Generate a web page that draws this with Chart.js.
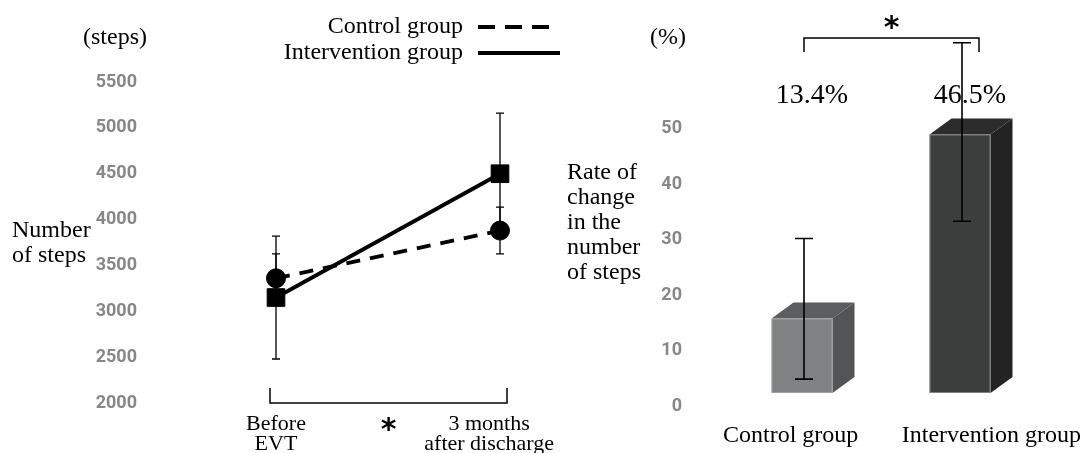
<!DOCTYPE html>
<html>
<head>
<meta charset="utf-8">
<script src="https://cdn.jsdelivr.net/npm/chart.js@4.4.1/dist/chart.umd.min.js"></script>
<style>
  html, body { margin: 0; padding: 0; background: #fff; }
  #wrap { position: relative; width: 1084px; height: 453px; overflow: hidden; }
  canvas { position: absolute; top: 0; }
  #steps { left: 0; }
  #rate { left: 560px; }
</style>
</head>
<body>
<div id="wrap">
  <canvas id="steps" width="560" height="453"></canvas>
  <canvas id="rate" width="524" height="453"></canvas>
</div>
<script>
// Mean daily steps (± SD), before EVT and 3 months after discharge
const periods = [['Before', 'EVT'], ['3 months', 'after discharge']];
const controlSteps = [3360, 3880];
const controlSD = [265, 255];
const interventionSteps = [3150, 4500];
const interventionSD = [670, 660];
const stepTicks = [2000, 2500, 3000, 3500, 4000, 4500, 5000, 5500];

// Rate of change in the number of steps (%), with error range
const groups = ['Control group', 'Intervention group'];
const changeRate = [13.4, 46.5];
const changeLow = [2.5, 30.9];
const changeHigh = [27.8, 63.0];
const rateTicks = [0, 10, 20, 30, 40, 50];

const SERIF = '"Liberation Serif", "Times New Roman", serif';
const TICK_FONT = { family: 'Roboto', size: 18, weight: '700' };
const TICK_COLOR = '#878787';

function drawErrorBar(ctx, x, yLow, yHigh, cap, width) {
  ctx.save();
  ctx.strokeStyle = '#000';
  ctx.lineWidth = width;
  ctx.beginPath();
  ctx.moveTo(x, yLow); ctx.lineTo(x, yHigh);
  ctx.moveTo(x - cap / 2, yLow); ctx.lineTo(x + cap / 2, yLow);
  ctx.moveTo(x - cap / 2, yHigh); ctx.lineTo(x + cap / 2, yHigh);
  ctx.stroke();
  ctx.restore();
}

// draws a glyph so that its ink is centred on (x, cy)
function drawCentredGlyph(ctx, text, x, cy) {
  const m = ctx.measureText(text);
  ctx.textAlign = 'center';
  ctx.textBaseline = 'alphabetic';
  ctx.fillText(text, x, cy + (m.actualBoundingBoxAscent - m.actualBoundingBoxDescent) / 2);
}

function drawBracket(ctx, left, right, top, bottom, open) {
  ctx.save();
  ctx.strokeStyle = '#000';
  ctx.lineWidth = 1.5;
  ctx.beginPath();
  if (open === 'up') {
    ctx.moveTo(left, top); ctx.lineTo(left, bottom); ctx.lineTo(right, bottom); ctx.lineTo(right, top);
  } else {
    ctx.moveTo(left, bottom); ctx.lineTo(left, top); ctx.lineTo(right, top); ctx.lineTo(right, bottom);
  }
  ctx.stroke();
  ctx.restore();
}

// y axis whose labels sit well away from the plot: fixed width, no extra vertical padding
function fixedAxis(width) {
  return s => { s.width = width; s.paddingTop = 10; s.paddingBottom = 10; };
}

/* ---------- left: number of steps ---------- */
const stepsDecor = {
  id: 'stepsDecor',
  beforeDatasetsDraw(chart) {
    const ctx = chart.ctx;
    const y = chart.scales.y;
    chart.data.datasets.forEach((ds, d) => {
      chart.getDatasetMeta(d).data.forEach((pt, i) => {
        drawErrorBar(ctx, pt.x,
          y.getPixelForValue(ds.data[i] - ds.sd[i]),
          y.getPixelForValue(ds.data[i] + ds.sd[i]), 8, 1.3);
      });
    });
  },
  afterDraw(chart) {
    const ctx = chart.ctx;
    const area = chart.chartArea;
    const pts = chart.getDatasetMeta(0).data;
    ctx.save();
    ctx.fillStyle = '#000';

    // legend: label on the left, line sample on the right
    ctx.font = '24px ' + SERIF;
    chart.data.datasets.forEach((ds, i) => {
      const base = 33 + i * 26;
      ctx.textAlign = 'right';
      ctx.textBaseline = 'alphabetic';
      ctx.fillText(ds.label, 463, base);
      ctx.save();
      ctx.strokeStyle = '#000';
      ctx.lineWidth = ds.borderWidth;
      ctx.setLineDash(ds.legendDash);
      ctx.beginPath();
      ctx.moveTo(478, base - 6);
      ctx.lineTo(ds.legendDash.length ? 551 : 561, base - 6);
      ctx.stroke();
      ctx.restore();
    });

    // unit and axis title
    ctx.textAlign = 'center';
    ctx.fillText('(steps)', 115, 44);
    ctx.textAlign = 'left';
    ctx.fillText('Number', 12, 237);
    ctx.fillText('of steps', 12, 262);

    // category labels under the bracket
    ctx.font = '22px ' + SERIF;
    ctx.textAlign = 'center';
    periods.forEach((lines, i) => {
      const w = Math.max(...lines.map(s => ctx.measureText(s).width));
      const cx = Math.min(pts[i].x, chart.width - 6 - w / 2);
      lines.forEach((s, k) => ctx.fillText(s, cx, area.bottom + 27 + k * 20));
    });

    // significance bracket between the two time points
    const left = pts[0].x - 6, right = pts[1].x + 7;
    drawBracket(ctx, left, right, area.bottom - 15, area.bottom, 'up');
    ctx.font = 'bold 30px "DejaVu Sans"';
    drawCentredGlyph(ctx, '*', (left + right) / 2, area.bottom + 21);
    ctx.restore();
  }
};

new Chart(document.getElementById('steps'), {
  type: 'line',
  data: {
    labels: periods,
    datasets: [
      {
        label: 'Control group',
        data: controlSteps,
        sd: controlSD,
        borderColor: '#000',
        backgroundColor: '#000',
        borderWidth: 3.8,
        borderDash: [14, 10],
        legendDash: [17, 10],
        pointStyle: 'circle',
        pointRadius: 9.5,
        pointBorderWidth: 1,
        pointBackgroundColor: '#000',
        pointBorderColor: '#000'
      },
      {
        label: 'Intervention group',
        data: interventionSteps,
        sd: interventionSD,
        borderColor: '#000',
        backgroundColor: '#000',
        borderWidth: 3.8,
        legendDash: [],
        pointStyle: 'rect',
        pointRadius: 12.5,
        pointBorderWidth: 1,
        pointBackgroundColor: '#000',
        pointBorderColor: '#000'
      }
    ]
  },
  options: {
    responsive: false,
    animation: false,
    events: [],
    layout: { padding: { top: 82, bottom: 50, right: 60, left: 0 } },
    plugins: { legend: { display: false }, tooltip: { enabled: false } },
    scales: {
      x: { type: 'category', offset: false, display: false },
      y: {
        min: 2000, max: 5500,
        afterBuildTicks: s => { s.ticks = stepTicks.map(v => ({ value: v })); },
        afterFit: fixedAxis(276),
        grid: { display: false },
        border: { display: false },
        ticks: { padding: 131, color: TICK_COLOR, font: TICK_FONT, callback: v => String(v) }
      }
    }
  },
  plugins: [stepsDecor]
});

/* ---------- right: rate of change, drawn as 3D boxes ---------- */
const BOX_DEPTH = { dx: 22, dy: 16, lift: 13.5 };
const rateDecor = {
  id: 'rateDecor',
  beforeDatasetDraw() { return false; },
  afterDatasetsDraw(chart) {
    const ctx = chart.ctx;
    const ds = chart.data.datasets[0];
    const y = chart.scales.y;
    const bars = chart.getDatasetMeta(0).data;
    const { dx, dy, lift } = BOX_DEPTH;
    ctx.save();
    bars.forEach((bar, i) => {
      const p = bar.getProps(['x', 'y', 'base', 'width'], true);
      const l = p.x - p.width / 2, r = p.x + p.width / 2;
      const t = p.y - lift, b = p.base - lift;
      ctx.fillStyle = ds.sideColor[i];
      ctx.beginPath();
      ctx.moveTo(r, b); ctx.lineTo(r + dx, b - dy); ctx.lineTo(r + dx, t - dy); ctx.lineTo(r, t);
      ctx.closePath(); ctx.fill();
      ctx.fillStyle = ds.topColor[i];
      ctx.beginPath();
      ctx.moveTo(l, t); ctx.lineTo(l + dx, t - dy); ctx.lineTo(r + dx, t - dy); ctx.lineTo(r, t);
      ctx.closePath(); ctx.fill();
      ctx.fillStyle = ds.backgroundColor[i];
      ctx.fillRect(l, t, p.width, b - t);
      ctx.strokeStyle = 'rgba(190,190,190,0.55)';
      ctx.lineWidth = 1;
      ctx.strokeRect(l + 0.5, t + 0.5, p.width - 1, b - t - 1);
    });
    bars.forEach((bar, i) => {
      drawErrorBar(ctx, bar.x + 2,
        y.getPixelForValue(changeLow[i]) - lift,
        y.getPixelForValue(changeHigh[i]) - lift, 18, 1.6);
    });
    ctx.restore();
  },
  afterDraw(chart) {
    const ctx = chart.ctx;
    const area = chart.chartArea;
    const bars = chart.getDatasetMeta(0).data;
    const { dx } = BOX_DEPTH;
    ctx.save();
    ctx.fillStyle = '#000';

    // value labels
    ctx.font = '28px ' + SERIF;
    ctx.textAlign = 'center';
    ctx.textBaseline = 'alphabetic';
    bars.forEach((bar, i) => {
      ctx.fillText(changeRate[i].toFixed(1) + '%', bar.x + dx / 2 - 1, area.top - 25.5);
    });

    // unit and axis title
    ctx.font = '24px ' + SERIF;
    ctx.fillText('(%)', 108, 44);
    ctx.textAlign = 'left';
    ['Rate of', 'change', 'in the', 'number', 'of steps'].forEach((s, k) => {
      ctx.fillText(s, 7, 179 + k * 25);
    });

    // group names
    ctx.fillText(groups[0], area.left, area.bottom + 35);
    ctx.textAlign = 'right';
    ctx.fillText(groups[1], chart.width - 3, area.bottom + 35);

    // significance bracket between the groups
    const left = bars[0].x + 2, right = bars[1].x + dx - 3;
    drawBracket(ctx, left, right, area.top - 90.5, area.top - 76.5, 'down');
    ctx.font = 'bold 30px "DejaVu Sans"';
    drawCentredGlyph(ctx, '*', (left + right) / 2, area.top - 106);
    ctx.restore();
  }
};

new Chart(document.getElementById('rate'), {
  type: 'bar',
  data: {
    labels: groups,
    datasets: [{
      label: 'Rate of change',
      data: changeRate,
      backgroundColor: ['rgb(128,129,131)', 'rgb(60,61,61)'],
      topColor: ['rgb(92,93,95)', 'rgb(44,44,44)'],
      sideColor: ['rgb(82,84,86)', 'rgb(35,35,35)'],
      barPercentage: 0.386,
      categoryPercentage: 1
    }]
  },
  options: {
    responsive: false,
    animation: false,
    events: [],
    layout: { padding: { top: 128.5, bottom: 46.5, right: 45, left: 0 } },
    plugins: { legend: { display: false }, tooltip: { enabled: false } },
    scales: {
      x: { type: 'category', offset: true, display: false },
      y: {
        min: 0, max: 50,
        afterBuildTicks: s => { s.ticks = rateTicks.map(v => ({ value: v })); },
        afterFit: fixedAxis(163),
        grid: { display: false },
        border: { display: false },
        ticks: { padding: 33, color: TICK_COLOR, font: TICK_FONT, callback: v => String(v) }
      }
    }
  },
  plugins: [rateDecor]
});
</script>
</body>
</html>
